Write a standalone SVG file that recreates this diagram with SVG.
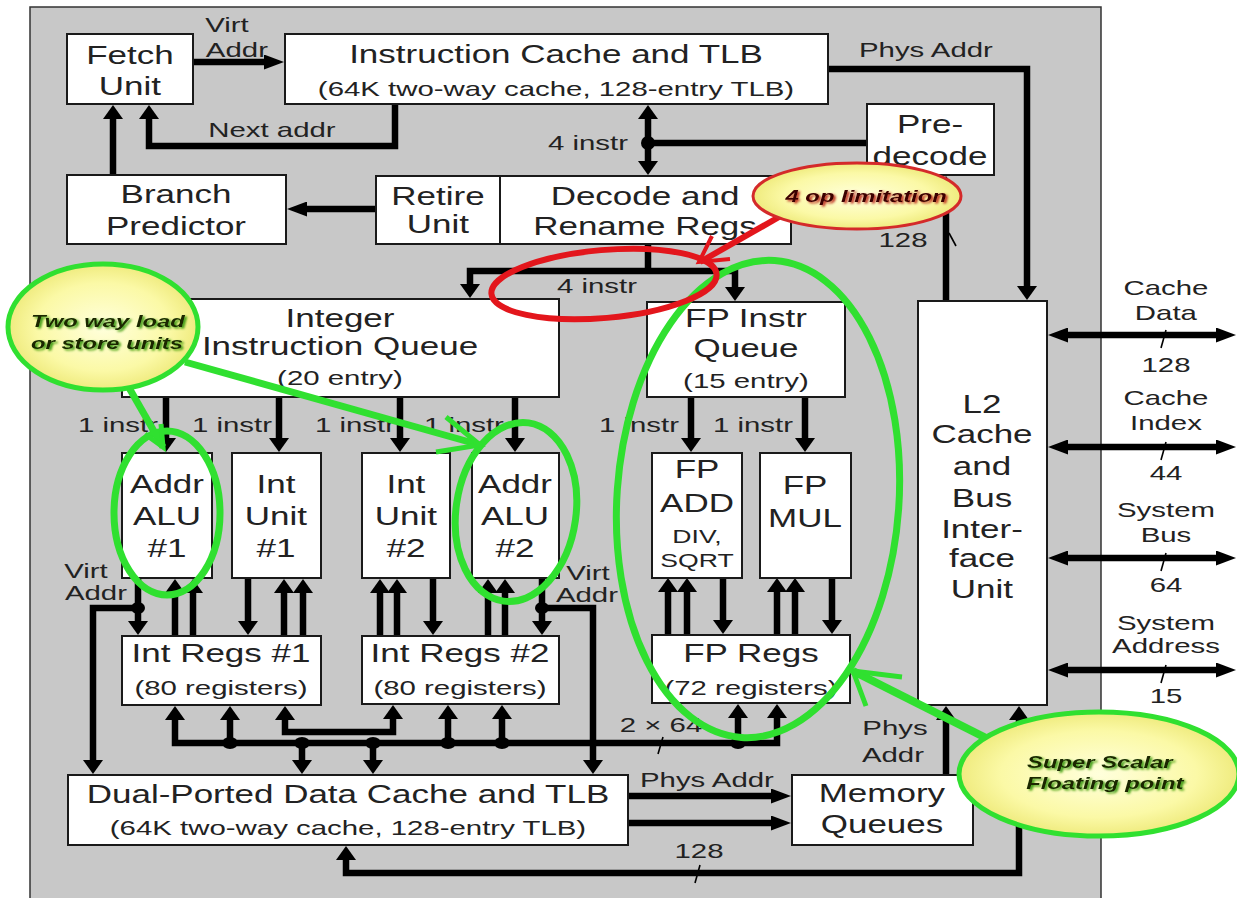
<svg xmlns="http://www.w3.org/2000/svg" width="1237" height="898" viewBox="0 0 1237 898">
<defs>
<style>
text{font-family:"Liberation Sans",Arial,sans-serif;fill:#222;text-anchor:middle;transform-box:fill-box;transform-origin:center;transform:scaleX(1.4)}
.b{font-size:25px}
.s{font-size:21px}
.m{font-size:19px}
.box{fill:#fff;stroke:#1a1a1a;stroke-width:2}
.ev{marker-end:url(#v)}
.bv{marker-start:url(#v);marker-end:url(#v)}
.eh{marker-end:url(#h)}
.bh{marker-start:url(#h);marker-end:url(#h)}
.tk{stroke-width:1.6}
.dot{fill:#000;stroke:none}
.g{fill:none;stroke:#30e030}
.ann{font-weight:bold;font-style:italic;font-size:17px}
.ga{fill:#1a2805;filter:url(#sg)}
.ra{fill:#3a0505;filter:url(#sr)}
</style>
<marker id="v" markerUnits="userSpaceOnUse" viewBox="0 0 14 20" markerWidth="14" markerHeight="20" refX="1" refY="10" orient="auto-start-reverse"><path d="M0,0 L14,10 L0,20 z" fill="#000"/></marker>
<marker id="h" markerUnits="userSpaceOnUse" viewBox="0 0 20 15" markerWidth="20" markerHeight="15" refX="1" refY="7.5" orient="auto-start-reverse"><path d="M0,0 L20,7.5 L0,15 z" fill="#000"/></marker>
<radialGradient id="yg" cx="50%" cy="50%" r="50%"><stop offset="0" stop-color="#ffffdc"/><stop offset="0.7" stop-color="#fbf9a6"/><stop offset="1" stop-color="#efeb7e"/></radialGradient>
<filter id="sg" x="-10%" y="-30%" width="120%" height="160%"><feDropShadow dx="1.5" dy="1.5" stdDeviation="0.8" flood-color="#3a9a10"/></filter>
<filter id="sr" x="-10%" y="-30%" width="120%" height="160%"><feDropShadow dx="1.5" dy="1.5" stdDeviation="0.8" flood-color="#c03020"/></filter>
</defs>

<rect x="0" y="0" width="1237" height="898" fill="#fff"/>
<rect id="chip" x="30" y="7" width="1071" height="900" fill="#c8c8c8" stroke="#333" stroke-width="1.5"/>

<g id="connectors" fill="none" stroke="#000" stroke-width="6.5">
<path class="eh" d="M193,62 H265"/>
<path class="ev" d="M395,104 V146 H149 V118"/>
<path class="ev" d="M113,175 V118"/>
<path class="eh" d="M376,209 H306"/>
<path class="bv" d="M648,118 V162"/>
<path d="M648,143 H867"/>
<path class="ev" d="M828,69 H1027 V287"/>
<path class="ev" d="M946,301 V189"/>
<path d="M648,244 V271"/>
<path class="bv" d="M470,285 V271 H735 V288"/>
<path class="ev" d="M166,397 V439"/>
<path class="ev" d="M279,397 V439"/>
<path class="ev" d="M400,397 V439"/>
<path class="ev" d="M515,397 V439"/>
<path class="ev" d="M691,397 V439"/>
<path class="ev" d="M805,397 V439"/>
<path class="ev" d="M175,636 V592"/>
<path class="ev" d="M193,636 V592"/>
<path class="ev" d="M284,636 V592"/>
<path class="ev" d="M303,636 V592"/>
<path class="ev" d="M380,636 V592"/>
<path class="ev" d="M397,636 V592"/>
<path class="ev" d="M488,636 V592"/>
<path class="ev" d="M505,636 V592"/>
<path class="ev" d="M668,635 V591"/>
<path class="ev" d="M687,635 V591"/>
<path class="ev" d="M777,635 V591"/>
<path class="ev" d="M795,635 V591"/>
<path class="ev" d="M248,578 V622"/>
<path class="ev" d="M433,578 V622"/>
<path class="ev" d="M723,578 V621"/>
<path class="ev" d="M832,578 V621"/>
<path class="ev" d="M138,578 V622"/>
<path class="ev" d="M138,608 H93 V761"/>
<path class="ev" d="M542,578 V622"/>
<path class="ev" d="M542,608 H593 V761"/>
<path class="bv" d="M175,719 V743 H777 V717"/>
<path class="bv" d="M285,719 V732 H393 V718"/>
<path class="ev" d="M230,743 V719"/>
<path class="ev" d="M448,743 V718"/>
<path class="ev" d="M502,743 V718"/>
<path class="ev" d="M738,743 V717"/>
<path class="ev" d="M302,743 V761"/>
<path class="ev" d="M373,743 V761"/>
<path class="eh" d="M628,796 H772"/>
<path class="eh" d="M628,823 H772"/>
<path class="ev" d="M946,775 V719"/>
<path class="bv" d="M1019,719 V873 H346 V859"/>
<path class="bh" d="M1067,335 H1217"/>
<path class="bh" d="M1067,447 H1217"/>
<path class="bh" d="M1067,558 H1217"/>
<path class="bh" d="M1067,670 H1217"/>
<path class="tk" d="M949,233 L956,246"/>
<path class="tk" d="M1161,348 L1166,330"/>
<path class="tk" d="M1161,460 L1166,442"/>
<path class="tk" d="M1161,571 L1166,553"/>
<path class="tk" d="M1161,683 L1166,665"/>
<path class="tk" d="M658,754 L663,737"/>
<path class="tk" d="M695,883 L700,865"/>
<ellipse class="dot" cx="648" cy="143" rx="7" ry="7"/>
<ellipse class="dot" cx="138" cy="608" rx="7" ry="6"/>
<ellipse class="dot" cx="542" cy="608" rx="7" ry="6"/>
<ellipse class="dot" cx="230" cy="743" rx="8" ry="6"/>
<ellipse class="dot" cx="302" cy="743" rx="8" ry="6"/>
<ellipse class="dot" cx="373" cy="743" rx="8" ry="6"/>
<ellipse class="dot" cx="448" cy="743" rx="8" ry="6"/>
<ellipse class="dot" cx="502" cy="743" rx="8" ry="6"/>
<ellipse class="dot" cx="738" cy="743" rx="8" ry="6"/>
</g>

<g id="labels">
<text class="s" x="227" y="32">Virt</text>
<text class="s" x="237" y="57">Addr</text>
<text class="s" x="272" y="137">Next addr</text>
<text class="s" x="926" y="57">Phys Addr</text>
<text class="s" x="588" y="150">4 instr</text>
<text class="s" x="903" y="247">128</text>
<text class="s" x="597" y="293">4 instr</text>
<text class="s" x="118" y="432">1 instr</text>
<text class="s" x="232" y="432">1 instr</text>
<text class="s" x="355" y="432">1 instr</text>
<text class="s" x="464" y="432">1 instr</text>
<text class="s" x="639" y="432">1 instr</text>
<text class="s" x="753" y="432">1 instr</text>
<text class="s" x="86" y="578">Virt</text>
<text class="s" x="96" y="600">Addr</text>
<text class="s" x="588" y="580">Virt</text>
<text class="s" x="587" y="602">Addr</text>
<text class="s" x="661" y="732">2 × 64</text>
<text class="s" x="707" y="787">Phys Addr</text>
<text class="s" x="699" y="858">128</text>
<text class="s" x="895" y="735">Phys</text>
<text class="s" x="893" y="762">Addr</text>
<text class="s" x="1166" y="295">Cache</text>
<text class="s" x="1166" y="320">Data</text>
<text class="s" x="1166" y="372">128</text>
<text class="s" x="1166" y="405">Cache</text>
<text class="s" x="1166" y="430">Index</text>
<text class="s" x="1166" y="480">44</text>
<text class="s" x="1166" y="517">System</text>
<text class="s" x="1166" y="542">Bus</text>
<text class="s" x="1166" y="592">64</text>
<text class="s" x="1166" y="630">System</text>
<text class="s" x="1166" y="653">Address</text>
<text class="s" x="1166" y="703">15</text>
</g>

<g id="fetch"><rect class="box" x="67" y="34" width="126" height="70"/><text class="b" x="130" y="64">Fetch</text><text class="b" x="130" y="95">Unit</text></g>
<g id="icache"><rect class="box" x="285" y="34" width="543" height="70"/><text class="b" x="556" y="63">Instruction Cache and TLB</text><text class="s" x="556" y="96">(64K two-way cache, 128-entry TLB)</text></g>
<g id="branch"><rect class="box" x="67" y="175" width="219" height="69"/><text class="b" x="176" y="203">Branch</text><text class="b" x="176" y="235">Predictor</text></g>
<g id="retire"><rect class="box" x="376" y="176" width="124" height="68"/><text class="b" x="438" y="205">Retire</text><text class="b" x="438" y="233">Unit</text></g>
<g id="decode"><rect class="box" x="500" y="176" width="291" height="68"/><text class="b" x="645" y="205">Decode and</text><text class="b" x="645" y="235">Rename Regs</text></g>
<g id="predecode"><rect class="box" x="867" y="104" width="127" height="71"/><text class="b" x="930" y="133">Pre-</text><text class="b" x="930" y="165">decode</text></g>
<g id="intqueue"><rect class="box" x="122" y="299" width="437" height="98"/><text class="b" x="340" y="327">Integer</text><text class="b" x="340" y="355">Instruction Queue</text><text class="s" x="340" y="385">(20 entry)</text></g>
<g id="fpqueue"><rect class="box" x="647" y="302" width="198" height="95"/><text class="b" x="746" y="327">FP Instr</text><text class="b" x="746" y="357">Queue</text><text class="s" x="746" y="388">(15 entry)</text></g>
<g id="alu1"><rect class="box" x="122" y="453" width="90" height="125"/><text class="b" x="167" y="493">Addr</text><text class="b" x="167" y="525">ALU</text><text class="b" x="167" y="557">#1</text></g>
<g id="int1"><rect class="box" x="232" y="453" width="89" height="125"/><text class="b" x="276" y="493">Int</text><text class="b" x="276" y="525">Unit</text><text class="b" x="276" y="557">#1</text></g>
<g id="int2"><rect class="box" x="362" y="453" width="88" height="125"/><text class="b" x="406" y="493">Int</text><text class="b" x="406" y="525">Unit</text><text class="b" x="406" y="557">#2</text></g>
<g id="alu2"><rect class="box" x="472" y="453" width="87" height="125"/><text class="b" x="515" y="493">Addr</text><text class="b" x="515" y="525">ALU</text><text class="b" x="515" y="557">#2</text></g>
<g id="fpadd"><rect class="box" x="652" y="453" width="90" height="125"/><text class="b" x="697" y="478">FP</text><text class="b" x="697" y="512">ADD</text><text class="m" x="697" y="543">DIV,</text><text class="m" x="697" y="567">SQRT</text></g>
<g id="fpmul"><rect class="box" x="760" y="453" width="91" height="125"/><text class="b" x="805" y="494">FP</text><text class="b" x="805" y="527">MUL</text></g>
<g id="intregs1"><rect class="box" x="122" y="636" width="199" height="69"/><text class="b" x="221" y="662">Int Regs #1</text><text class="s" x="221" y="695">(80 registers)</text></g>
<g id="intregs2"><rect class="box" x="362" y="636" width="197" height="68"/><text class="b" x="460" y="662">Int Regs #2</text><text class="s" x="460" y="695">(80 registers)</text></g>
<g id="fpregs"><rect class="box" x="652" y="635" width="198" height="68"/><text class="b" x="751" y="662">FP Regs</text><text class="s" x="751" y="695">(72 registers)</text></g>
<g id="l2"><rect class="box" x="918" y="301" width="129" height="404"/><text class="b" x="982" y="413">L2</text><text class="b" x="982" y="443">Cache</text><text class="b" x="982" y="475">and</text><text class="b" x="982" y="507">Bus</text><text class="b" x="982" y="538">Inter-</text><text class="b" x="982" y="567">face</text><text class="b" x="982" y="598">Unit</text></g>
<g id="dcache"><rect class="box" x="68" y="775" width="560" height="70"/><text class="b" x="348" y="803">Dual-Ported Data Cache and TLB</text><text class="s" x="348" y="835">(64K two-way cache, 128-entry TLB)</text></g>
<g id="memq"><rect class="box" x="792" y="775" width="181" height="70"/><text class="b" x="882" y="802">Memory</text><text class="b" x="882" y="833">Queues</text></g>

<g id="annotations">
<ellipse class="g" cx="167" cy="513" rx="53" ry="82" stroke-width="7"/>
<ellipse class="g" cx="516" cy="512" rx="60" ry="90" stroke-width="7" transform="rotate(8 516 512)"/>
<ellipse class="g" cx="758" cy="499" rx="141" ry="239" stroke-width="7" transform="rotate(4 758 499)"/>
<path class="g" d="M128,386 L163,447" stroke-width="7"/>
<path class="g" d="M145,434 L163,447 L161,424" stroke-width="5"/>
<path class="g" d="M185,362 L480,445" stroke-width="7"/>
<path class="g" d="M436,452 L480,445 L446,417" stroke-width="5"/>
<path class="g" d="M990,740 L853,671" stroke-width="8"/>
<path class="g" d="M902,677 L853,671 L866,706" stroke-width="5"/>
<ellipse cx="604" cy="284" rx="113" ry="34" transform="rotate(-5 604 284)" fill="none" stroke="#e3161c" stroke-width="6"/>
<path d="M786,213 L700,262" fill="none" stroke="#e3161c" stroke-width="6"/>
<path d="M712,236 L699,262 L730,259" fill="none" stroke="#e3161c" stroke-width="4"/>
<g id="note-4op"><ellipse cx="857" cy="196" rx="104" ry="33" fill="url(#yg)" stroke="#d42a2a" stroke-width="3"/><text class="ann ra" x="866" y="202">4 op limitation</text></g>
<g id="note-loadstore"><ellipse cx="103" cy="327" rx="95" ry="63" fill="url(#yg)" stroke="#30e030" stroke-width="5"/><text class="ann ga" x="108" y="327">Two way load</text><text class="ann ga" x="107" y="349">or store units</text></g>
<g id="note-fp"><ellipse cx="1099" cy="774" rx="140" ry="62" fill="url(#yg)" stroke="#30e030" stroke-width="5"/><text class="ann ga" x="1100" y="768">Super Scalar</text><text class="ann ga" x="1105" y="789">Floating point</text></g>
</g>
</svg>
